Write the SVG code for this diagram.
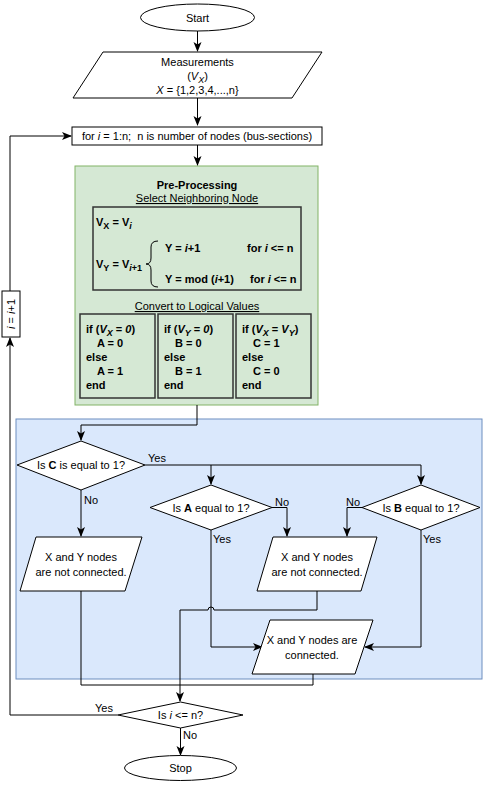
<svg xmlns="http://www.w3.org/2000/svg" width="483" height="786" viewBox="0 0 483 786">
<defs>
<marker id="arr" markerWidth="10" markerHeight="10" refX="9" refY="4" orient="auto" markerUnits="userSpaceOnUse">
<path d="M0,0 L10,4 L0,8 L2.5,4 z" fill="#000"/>
</marker>
<style>
text{font-family:"Liberation Sans",Arial,sans-serif;font-size:11px;fill:#000}
.c{text-anchor:middle}
.b{font-weight:bold}
.i{font-style:italic}
.u{text-decoration:underline}
.sh{fill:#fff;stroke:#000;stroke-width:1}
.box{fill:none;stroke:#333;stroke-width:1.5}
.ln{fill:none;stroke:#000;stroke-width:1}
.lnA{fill:none;stroke:#000;stroke-width:1;marker-end:url(#arr)}
.sub{font-size:9px}
</style>
</defs>
<rect width="483" height="786" fill="#fff"/>

<g id="preproc-group">
<rect x="75" y="166" width="243" height="239" fill="#d5e8d4" stroke="#82b366" stroke-width="1"/>
</g>
<g id="decision-group">
<rect x="16" y="419" width="466" height="260" fill="#dae8fc" stroke="#6c8ebf" stroke-width="1"/>
</g>

<g id="connectors">
<path class="lnA" d="M197.5,31 L197.5,51"/>
<path class="lnA" d="M197.5,98 L197.5,125"/>
<path class="lnA" d="M197.5,145 L197.5,165"/>
<path class="lnA" d="M197,405 L197,425 L81,425 L81,440"/>
<path class="lnA" d="M145,465 L211,465 L211,484"/>
<path class="lnA" d="M211,465 L421,465 L421,484"/>
<path class="lnA" d="M81,490 L81,536"/>
<path class="lnA" d="M272,507.5 L287,507.5 L287,536"/>
<path class="lnA" d="M362,507.5 L347,507.5 L347,536"/>
<path class="lnA" d="M211,530 L211,647 L262,647"/>
<path class="lnA" d="M421,530 L421,647 L365,647"/>
<path class="lnA" d="M317,591 L317,610 L214,610 A3,3 0 0 0 208,610 L180,610 L180,701"/>
<path class="ln" d="M81,591 L81,685 L180,685"/>
<path class="ln" d="M313,674 L313,685 L180,685"/>
<path class="lnA" d="M118,715 L10,715 L10,338"/>
<path class="lnA" d="M10,291 L10,136 L71,136"/>
<path class="lnA" d="M180.5,728 L180.5,755"/>
<text x="157" y="462" class="c">Yes</text>
<text x="84" y="504">No</text>
<text x="282" y="506" class="c">No</text>
<text x="353" y="506" class="c">No</text>
<text x="213" y="543">Yes</text>
<text x="423" y="543">Yes</text>
<text x="104" y="712" class="c">Yes</text>
<text x="183" y="739">No</text>
</g>

<g id="start">
<ellipse cx="197.5" cy="17.5" rx="57" ry="13.5" class="sh"/>
<text x="197.5" y="21.5" class="c">Start</text>
</g>

<g id="measurements">
<path d="M103,52 L322,52 L292,98 L73,98 Z" class="sh"/>
<text x="197.5" y="66" class="c">Measurements</text>
<text x="197.5" y="80" class="c">(<tspan class="i">V</tspan><tspan class="i sub" dy="3">X</tspan><tspan dy="-3">)</tspan></text>
<text x="197.5" y="94" class="c"><tspan class="i">X</tspan> = {1,2,3,4,...,n}</text>
</g>

<g id="for-loop">
<rect x="72" y="127" width="250" height="18" class="sh"/>
<text x="197" y="140" class="c">for <tspan class="i">i</tspan> = 1:n;&#160; n is number of nodes (bus-sections)</text>
</g>

<g id="preprocessing">
<text x="197" y="189" class="c b">Pre-Processing</text>
<text x="197" y="202" class="c u">Select Neighboring Node</text>
<rect x="93" y="207" width="208" height="83" class="box"/>
<text x="96" y="226" class="b">V<tspan class="sub" dy="3">X</tspan><tspan dy="-3"> = V</tspan><tspan class="sub i" dy="3">i</tspan></text>
<text x="96" y="268" class="b">V<tspan class="sub" dy="3">Y</tspan><tspan dy="-3"> = V</tspan><tspan class="sub" dy="3"><tspan class="i">i</tspan>+1</tspan></text>
<path d="M158,241 Q151,241 151,247 L151,258 Q151,264 146,264 Q151,264 151,270 L151,281 Q151,287 158,287" class="ln"/>
<text x="165" y="252" class="b">Y = <tspan class="i">i</tspan>+1</text>
<text x="247" y="252" class="b">for <tspan class="i">i</tspan> &lt;= n</text>
<text x="165" y="283" class="b">Y = mod (<tspan class="i">i</tspan>+1)</text>
<text x="250" y="283" class="b">for <tspan class="i">i</tspan> &lt;= n</text>
<text x="197" y="310" class="c u">Convert to Logical Values</text>
</g>

<g id="logic-a">
<rect x="80" y="314" width="75" height="84" class="box"/>
<text x="86" y="333" class="b">if (<tspan class="i">V</tspan><tspan class="i sub" dy="3">X</tspan><tspan dy="-3"> = </tspan><tspan class="i">0</tspan>)</text>
<text x="97" y="347" class="b">A = 0</text>
<text x="86" y="361" class="b">else</text>
<text x="97" y="375" class="b">A = 1</text>
<text x="86" y="389" class="b">end</text>
</g>
<g id="logic-b">
<rect x="158" y="314" width="75" height="84" class="box"/>
<text x="164" y="333" class="b">if (<tspan class="i">V</tspan><tspan class="i sub" dy="3">Y</tspan><tspan dy="-3"> = </tspan><tspan class="i">0</tspan>)</text>
<text x="175" y="347" class="b">B = 0</text>
<text x="164" y="361" class="b">else</text>
<text x="175" y="375" class="b">B = 1</text>
<text x="164" y="389" class="b">end</text>
</g>
<g id="logic-c">
<rect x="236" y="314" width="75" height="84" class="box"/>
<text x="242" y="333" class="b">if (<tspan class="i">V</tspan><tspan class="i sub" dy="3">X</tspan><tspan dy="-3"> = </tspan><tspan class="i">V</tspan><tspan class="i sub" dy="3">Y</tspan><tspan dy="-3">)</tspan></text>
<text x="253" y="347" class="b">C = 1</text>
<text x="242" y="361" class="b">else</text>
<text x="253" y="375" class="b">C = 0</text>
<text x="242" y="389" class="b">end</text>
</g>

<g id="is-c">
<path d="M17,465 L81,441 L145,465 L81,490 Z" class="sh"/>
<text x="81" y="469" class="c">Is <tspan class="b">C</tspan> is equal to 1?</text>
</g>
<g id="is-a">
<path d="M150,507.5 L211,485 L272,507.5 L211,530 Z" class="sh"/>
<text x="211" y="511.5" class="c">Is <tspan class="b">A</tspan> equal to 1?</text>
</g>
<g id="is-b">
<path d="M362,507.5 L421,485 L480,507.5 L421,530 Z" class="sh"/>
<text x="421" y="511.5" class="c">Is <tspan class="b">B</tspan> equal to 1?</text>
</g>

<g id="not-connected-1">
<path d="M36,537 L142,537 L125,591 L20,591 Z" class="sh"/>
<text x="81" y="561" class="c">X and Y nodes</text>
<text x="81" y="576" class="c">are not connected.</text>
</g>
<g id="not-connected-2">
<path d="M273,537 L377,537 L361,591 L257,591 Z" class="sh"/>
<text x="317" y="561" class="c">X and Y nodes</text>
<text x="317" y="576" class="c">are not connected.</text>
</g>
<g id="connected">
<path d="M270,620 L373,620 L355,674 L252,674 Z" class="sh"/>
<text x="312" y="644" class="c">X and Y nodes are</text>
<text x="312" y="659" class="c">connected.</text>
</g>

<g id="is-i-le-n">
<path d="M118,715 L180.5,702 L243,715 L180.5,728 Z" class="sh"/>
<text x="180.5" y="719" class="c">Is <tspan class="i">i</tspan> &lt;= n?</text>
</g>

<g id="increment">
<rect x="2" y="291" width="18" height="46" class="sh"/>
<text transform="translate(14.5,314) rotate(-90)" class="c"><tspan class="i">i</tspan> = <tspan class="i">i</tspan>+1</text>
</g>

<g id="stop">
<ellipse cx="180.5" cy="768" rx="56" ry="12.5" class="sh"/>
<text x="180.5" y="772" class="c">Stop</text>
</g>
</svg>
